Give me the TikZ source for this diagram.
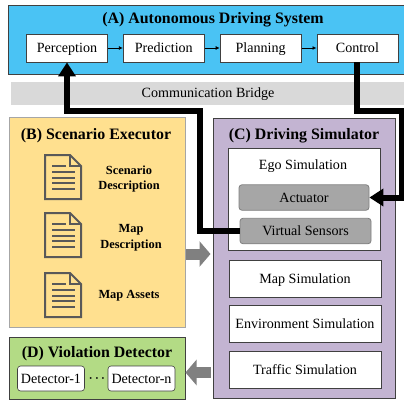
\documentclass[tikz,border=0pt]{standalone}
\usepackage{fontspec}
\setmainfont{Liberation Serif}
\usetikzlibrary{positioning,arrows.meta}
\definecolor{adsblue}{HTML}{4AC3F4}
\definecolor{bridgegray}{HTML}{D9D9D9}
\definecolor{execyellow}{HTML}{FFE08F}
\definecolor{simpurple}{HTML}{C3B4D2}
\definecolor{detectgreen}{HTML}{B3DB85}
\definecolor{edgegray}{HTML}{404040}
\definecolor{docgray}{HTML}{595959}
\begin{document}
\begin{tikzpicture}[
        x=1pt,
        y=-1pt,
        bodyfont/.style={font=\fontsize{14.1}{16}\selectfont, text height=11pt, text depth=1.6pt},
        panel/.style={draw=edgegray, line width=1pt, inner sep=0pt},
        paneltitle/.style={font=\fontsize{15.9}{18}\selectfont\bfseries, inner sep=0pt, text height=12pt, text depth=2pt},
        modbox/.style={bodyfont, draw=edgegray, fill=white, line width=.8pt, minimum width=81pt, minimum height=28pt, inner sep=0pt},
        simbox/.style={modbox, minimum width=152pt, minimum height=37pt},
        graybox/.style={bodyfont, draw=gray, fill=black!35, rounded corners=3pt, line width=.8pt, minimum height=25.5pt, inner sep=0pt},
        detbox/.style={bodyfont, draw=edgegray, fill=white, rounded corners=3pt, line width=.6pt, minimum width=67pt, minimum height=25pt, inner sep=0pt},
        doclabel/.style={font=\fontsize{12.4}{15.5}\selectfont\bfseries, align=center, inner sep=0pt},
        thinarrow/.style={-{Latex[length=4pt,width=4pt]}, line width=.8pt},
        bigarrow/.style={line width=6pt, -{Triangle[length=14pt,width=17pt]}},
        blockarrow/.style={line width=11pt, draw=black!50, -{Triangle[length=11pt,width=25pt]}},
        docicon/.pic={
          \draw[docgray, line width=2pt, line join=miter] (0,0) -- (25,0) -- (36,11) -- (36,44) -- (0,44) -- cycle;
          \draw[docgray, line width=1.5pt] (25,0) -- (25,11) -- (36,11);
          \draw[docgray, line width=1.2pt] (7,11) -- (21,11);
          \foreach \ypos in {17,23,28,34}
            \draw[docgray, line width=1.2pt] (7,\ypos) -- (30,\ypos);
        }
      ]
      \useasboundingbox (0,0) rectangle (404,402);

      % panels
      \node[panel, fill=adsblue, minimum width=398pt, minimum height=69pt] (ads) at (207,39.5) {};
      \node[bodyfont, fill=bridgegray, minimum width=394pt, minimum height=23pt, inner sep=0pt] (bridge) at (208,93) {Communication Bridge};
      \node[panel, draw=black!35, fill=execyellow, minimum width=176pt, minimum height=210pt] (executor) at (97,222) {};
      \node[panel, fill=simpurple, minimum width=182pt, minimum height=280pt] (simulator) at (304,258) {};
      \node[panel, fill=detectgreen, minimum width=176pt, minimum height=62pt] (detector) at (97,368) {};

      % (A)
      \node[paneltitle] (adstitle) at (213,18) {(A) Autonomous Driving System};
      \node[modbox] (perception) at (67,48) {Perception};
      \node[modbox, right=15pt of perception] (prediction) {Prediction};
      \node[modbox, right=15pt of prediction] (planning) {Planning};
      \node[modbox, right=15pt of planning] (control) {Control};
      \draw[thinarrow] (perception) -- (prediction);
      \draw[thinarrow] (prediction) -- (planning);
      \draw[thinarrow] (planning) -- (control);

      % (B)
      \node[paneltitle] (exectitle) at (96,134) {(B) Scenario Executor};
      \pic at (45,155) {docicon};
      \pic at (45,213) {docicon};
      \pic at (45,273) {docicon};
      \node[doclabel] (scenariodesc) at (129,179) {Scenario\\Description};
      \node[doclabel] (mapdesc) at (131,238) {Map\\Description};
      \node[doclabel] (mapassets) at (129,295.5) {Map Assets};

      % (C)
      \node[paneltitle] (simtitle) at (304,134) {(C) Driving Simulator};
      \node[draw=edgegray, fill=white, line width=.8pt, minimum width=152pt, minimum height=102pt, inner sep=0pt] (ego) at (304,199) {};
      \node[bodyfont, inner sep=0pt] (egotitle) at (303,165) {Ego Simulation};
      \node[graybox, minimum width=130pt] (actuator) at (304,197.5) {Actuator};
      \node[graybox, minimum width=131pt] (sensors) at (305.5,231) {Virtual Sensors};
      \node[simbox] (mapsim) at (305,278.5) {Map Simulation};
      \node[simbox] (envsim) at (305,323.5) {Environment Simulation};
      \node[simbox] (trafficsim) at (305,370) {Traffic Simulation};

      % (D)
      \node[paneltitle] (dettitle) at (97,352.5) {(D) Violation Detector};
      \node[detbox] (detone) at (51,378.5) {Detector-1};
      \node[detbox] (detn) at (141.5,378.5) {Detector-n};
      \node[font=\large\boldmath, inner sep=0pt] (detdots) at (97,379) {$\cdots$};

      % connectors
      \coordinate (sensorbend) at (199.5,111);
      \coordinate (controlbend) at (402,111);
      \coordinate (feedin) at (200,254);
      \coordinate (feedback) at (200,372.5);
      \draw[bigarrow] (sensors.west) -| (sensorbend) -| (perception.south);
      \draw[bigarrow] (control.south) |- (controlbend) |- (actuator.east);
      \draw[blockarrow, shorten >=2pt] (executor.east |- feedin) -- (simulator.west |- feedin);
      \draw[blockarrow, shorten <=2pt] (simulator.west |- feedback) -- (detector.east |- feedback);
      \end{tikzpicture}
\end{document}
